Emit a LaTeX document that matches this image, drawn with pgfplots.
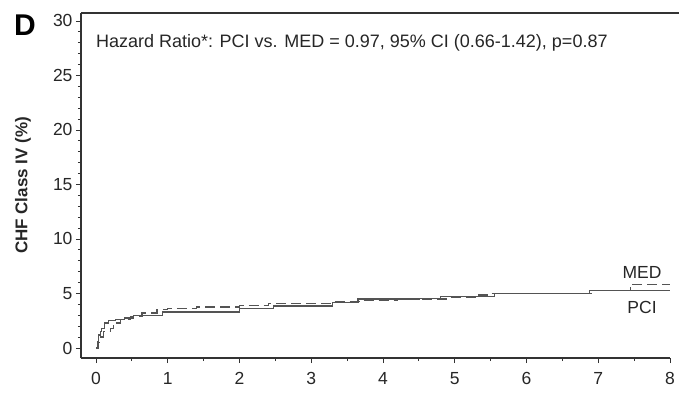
\documentclass[border=0pt]{standalone}
\usepackage{fontspec}
\setmainfont{Liberation Sans}
\usepackage{pgfplots}
\pgfplotsset{compat=1.18}
\definecolor{curve}{gray}{0.33}
\begin{document}
\begin{tikzpicture}
\path[use as bounding box] (-81pt,-34pt) rectangle (598pt,358pt);
\begin{axis}[
  at={(0,0)}, anchor=south west,
  scale only axis, width=589pt, height=345pt,
  xmin=-0.21, xmax=8.0, ymin=-0.92, ymax=30.73,
  axis lines=left, axis line style={-, line width=1.1pt, black!80},
  tick align=outside, tick style={line width=0.9pt, black!80},
  major tick length=5pt, minor tick length=3pt,
  xtick={0,1,...,8}, minor xtick={0.5,1.5,...,7.5},
  ytick={0,5,...,30}, minor ytick={1,2,3,4,6,7,8,9,11,12,13,14,16,17,18,19,21,22,23,24,26,27,28,29},
  /pgf/number format/assume math mode=true,
  tick label style={font=\fontsize{17.5}{19}\selectfont, black!85},
  xticklabel style={yshift=-6pt},
  yticklabel style={xshift=0pt},
  every axis y label/.style={at={(rel axis cs:0,0.5)}, xshift=-58pt, rotate=90, anchor=center,
     font=\fontsize{17}{19}\selectfont\bfseries, black!85},
  ylabel={CHF Class IV (\%)},
  clip=false,
]
\addplot[const plot, curve, line width=1.3pt] coordinates {
(0,0) (0.02,0.6) (0.03,1.2) (0.06,1.5) (0.08,1.8) (0.12,2.3) (0.17,2.5)
(0.27,2.6) (0.4,2.75) (0.52,3.0) (0.93,3.3) (2.0,3.6) (2.47,3.85)
(3.3,4.2) (3.65,4.5) (4.5,4.55) (4.8,4.7) (5.55,5.0) (6.88,5.28) (8.0,5.28)};
\addplot[const plot, curve, line width=1.3pt, dash pattern=on 10pt off 5pt] coordinates {
(0,0) (0.03,0.5) (0.05,1.0) (0.1,1.5) (0.2,1.8) (0.24,2.3) (0.34,2.6)
(0.48,2.9) (0.64,3.2) (0.85,3.5) (1.0,3.6) (1.4,3.75) (2.0,3.9) (2.4,4.1)
(3.3,4.25) (3.7,4.35) (4.2,4.5) (4.9,4.6) (5.3,4.85) (5.5,5.0) (6.9,5.3)
(7.45,5.85) (8.0,5.85)};
\draw[line width=1.1pt, black!80] (rel axis cs:0,1) -- ([xshift=9pt]rel axis cs:1,1);
\node[anchor=west, font=\fontsize{18}{19}\selectfont, black!85] at (axis cs:-0.05,28.0)
  {Hazard Ratio*: PCI vs. MED = 0.97, 95\% CI (0.66-1.42), p=0.87};
\node[font=\fontsize{17.5}{19}\selectfont, black!85] at (axis cs:7.61,6.9) {MED};
\node[font=\fontsize{17.5}{19}\selectfont, black!85] at (axis cs:7.61,3.76) {PCI};
\end{axis}
\node[font=\fontsize{30}{32}\selectfont\bfseries] at (-56pt,333pt) {D};
\end{tikzpicture}
\end{document}
